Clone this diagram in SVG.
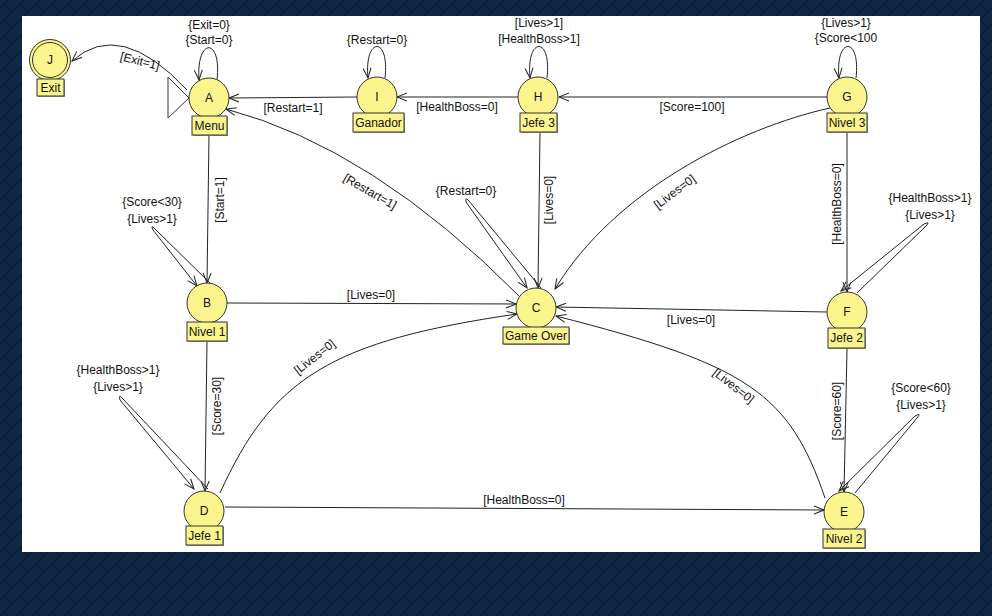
<svg xmlns="http://www.w3.org/2000/svg" width="992" height="616" viewBox="0 0 992 616">
<defs>
<pattern id="bgp" width="16" height="16" patternUnits="userSpaceOnUse">
<rect width="16" height="16" fill="#0f2846"/>
<path d="M0,8 L8,0 M8,16 L16,8 M4,4 L12,12" stroke="#0a1d34" stroke-width="2" fill="none"/>
</pattern>
<marker id="arr" viewBox="0 0 12 10" refX="11" refY="5" markerWidth="12" markerHeight="10" orient="auto" markerUnits="userSpaceOnUse">
<path d="M1,1 L11,5 L1,9" fill="none" stroke="#222" stroke-width="1"/>
</marker>
</defs>
<style>
text{font-family:"Liberation Sans",Arial,sans-serif;font-size:12px;fill:#111}
.c{text-anchor:middle}
.st{fill:#fcf58e;stroke:#333;stroke-width:1}
.lb{fill:#fcf58e;stroke:#333;stroke-width:1}
.sh{fill:#999}
.e{fill:none;stroke:#222;stroke-width:1;marker-end:url(#arr)}
</style>
<rect width="992" height="616" fill="url(#bgp)"/>
<rect x="22" y="16" width="958" height="536" fill="#fff"/>

<g id="connectors">
<!-- A -> J -->
<path class="e" d="M187,90 Q120,18 72,61"/>
<text transform="translate(139,65) rotate(14)" class="c">[Exit=1]</text>
<!-- A self -->
<path class="e" d="M217,80 C222,37 196,37 199,80"/>
<text x="209" y="29" class="c">{Exit=0}</text>
<text x="209" y="44" class="c">{Start=0}</text>
<!-- I -> A -->
<path class="e" d="M357,97 L229,98"/>
<text x="293" y="112" class="c">[Restart=1]</text>
<!-- I self -->
<path class="e" d="M385,78 C390,36 364,36 368,78"/>
<text x="377" y="44" class="c">{Restart=0}</text>
<!-- H -> I -->
<path class="e" d="M518,97 L397,97"/>
<text x="457" y="111" class="c">[HealthBoss=0]</text>
<!-- H self -->
<path class="e" d="M547,78 C552,36 526,36 530,78"/>
<text x="539" y="27" class="c">[Lives&gt;1]</text>
<text x="539" y="43" class="c">[HealthBoss&gt;1]</text>
<!-- G -> H -->
<path class="e" d="M827,97 L559,97"/>
<text x="692" y="111" class="c">[Score=100]</text>
<!-- G self -->
<path class="e" d="M856,78 C861,36 835,36 839,78"/>
<text x="846" y="27" class="c">{Lives&gt;1}</text>
<text x="846" y="42" class="c">{Score&lt;100</text>
<!-- A -> B -->
<path class="e" d="M209,135 L207,283"/>
<text transform="translate(224,200) rotate(-90)" class="c">[Start=1]</text>
<!-- B self -->
<path class="e" d="M211,284 L155,229 Q150,224 153,230 L197,286"/>
<text x="152" y="206" class="c">{Score&lt;30}</text>
<text x="152" y="223" class="c">{Lives&gt;1}</text>
<!-- C -> A -->
<path class="e" d="M520,297 Q373,148 226,109"/>
<text transform="translate(368,195) rotate(30)" class="c">[Restart=1]</text>
<!-- C self -->
<path class="e" d="M541,288 L469,201 Q465,196 466,202 L527,288"/>
<text x="466" y="195" class="c">{Restart=0}</text>
<!-- H -> C -->
<path class="e" d="M540,132 L538,288"/>
<text transform="translate(553,200) rotate(-90)" class="c">[Lives=0]</text>
<!-- G -> C -->
<path class="e" d="M830,108 C740,128 615,190 555,289"/>
<text transform="translate(677,195) rotate(-37)" class="c">[Lives=0]</text>
<!-- G -> F -->
<path class="e" d="M847,133 L847,292"/>
<text transform="translate(841,204) rotate(-90)" class="c">[HealthBoss=0]</text>
<!-- B -> C -->
<path class="e" d="M227,303 L516,304"/>
<text x="371" y="299" class="c">[Lives=0]</text>
<!-- F -> C -->
<path class="e" d="M827,312 L556,307"/>
<text x="691" y="324" class="c">[Lives=0]</text>
<!-- F self -->
<path class="e" d="M857,293 L926,226 Q931,221 924,224 L841,291"/>
<text x="930" y="202" class="c">{HealthBoss&gt;1}</text>
<text x="930" y="219" class="c">{Lives&gt;1}</text>
<!-- B -> D -->
<path class="e" d="M207,341 L205,491"/>
<text transform="translate(221,406) rotate(-90)" class="c">[Score=30]</text>
<!-- D self -->
<path class="e" d="M208,489 L123,399 Q118,393 120,400 L194,489"/>
<text x="118" y="374" class="c">{HealthBoss&gt;1}</text>
<text x="118" y="391" class="c">{Lives&gt;1}</text>
<!-- D -> C -->
<path class="e" d="M220,493 C272,378 331,341 517,314"/>
<text transform="translate(317,360) rotate(-38)" class="c">[Lives=0]</text>
<!-- D -> E -->
<path class="e" d="M225,507 L824,510"/>
<text x="524" y="504" class="c">[HealthBoss=0]</text>
<!-- E -> C -->
<path class="e" d="M825,498 C789,393 748,365 556,316"/>
<text transform="translate(731,389) rotate(38)" class="c">[Lives=0]</text>
<!-- F -> E -->
<path class="e" d="M847,349 L844,492"/>
<text transform="translate(841,411) rotate(-90)" class="c">[Score=60]</text>
<!-- E self -->
<path class="e" d="M855,493 L917,418 Q922,412 915,416 L839,491"/>
<text x="921" y="392" class="c">{Score&lt;60}</text>
<text x="921" y="409" class="c">{Lives&gt;1}</text>
</g>

<g id="start">
<polygon points="168,77 168,118 189,98" fill="#fff" stroke="#333"/>
</g>

<g id="J">
<circle cx="50" cy="60" r="20.5" class="st"/>
<circle cx="50" cy="60" r="17.5" fill="none" stroke="#333"/>
<text x="50" y="64" class="c">J</text>
<rect x="38" y="80" width="27" height="17" class="sh"/>
<rect x="37" y="79" width="27" height="17" class="lb"/>
<text x="50.5" y="92" class="c">Exit</text>
</g>

<g id="A">
<circle cx="209" cy="98" r="20" class="st"/>
<text x="209" y="102" class="c">A</text>
<rect x="193" y="117" width="35" height="19" class="sh"/>
<rect x="192" y="116" width="35" height="19" class="lb"/>
<text x="209.5" y="130" class="c">Menu</text>
</g>

<g id="I">
<circle cx="377" cy="97" r="20" class="st"/>
<text x="377" y="101" class="c">I</text>
<rect x="354" y="114" width="51" height="19" class="sh"/>
<rect x="353" y="113" width="51" height="19" class="lb"/>
<text x="378.5" y="127" class="c">Ganador</text>
</g>

<g id="H">
<circle cx="538" cy="97" r="20" class="st"/>
<text x="538" y="101" class="c">H</text>
<rect x="521" y="114" width="37" height="19" class="sh"/>
<rect x="520" y="113" width="37" height="19" class="lb"/>
<text x="538.5" y="127" class="c">Jefe 3</text>
</g>

<g id="G">
<circle cx="847" cy="97" r="20" class="st"/>
<text x="847" y="101" class="c">G</text>
<rect x="828" y="114" width="40" height="19" class="sh"/>
<rect x="827" y="113" width="40" height="19" class="lb"/>
<text x="847" y="127" class="c">Nivel 3</text>
</g>

<g id="B">
<circle cx="207" cy="303" r="20" class="st"/>
<text x="207" y="307" class="c">B</text>
<rect x="188" y="323" width="40" height="19" class="sh"/>
<rect x="187" y="322" width="40" height="19" class="lb"/>
<text x="207" y="336" class="c">Nivel 1</text>
</g>

<g id="C">
<circle cx="536" cy="308" r="20" class="st"/>
<text x="536" y="312" class="c">C</text>
<rect x="504" y="328" width="66" height="17" class="sh"/>
<rect x="503" y="327" width="66" height="17" class="lb"/>
<text x="536" y="340" class="c">Game Over</text>
</g>

<g id="F">
<circle cx="847" cy="312" r="20" class="st"/>
<text x="847" y="316" class="c">F</text>
<rect x="829" y="329" width="37" height="20" class="sh"/>
<rect x="828" y="328" width="37" height="20" class="lb"/>
<text x="846.5" y="342" class="c">Jefe 2</text>
</g>

<g id="D">
<circle cx="204" cy="511" r="20" class="st"/>
<text x="204" y="515" class="c">D</text>
<rect x="187" y="527" width="37" height="19" class="sh"/>
<rect x="186" y="526" width="37" height="19" class="lb"/>
<text x="204.5" y="540" class="c">Jefe 1</text>
</g>

<g id="E">
<circle cx="844" cy="512" r="20" class="st"/>
<text x="844" y="516" class="c">E</text>
<rect x="824" y="530" width="42" height="19" class="sh"/>
<rect x="823" y="529" width="42" height="19" class="lb"/>
<text x="844" y="543" class="c">Nivel 2</text>
</g>
</svg>
